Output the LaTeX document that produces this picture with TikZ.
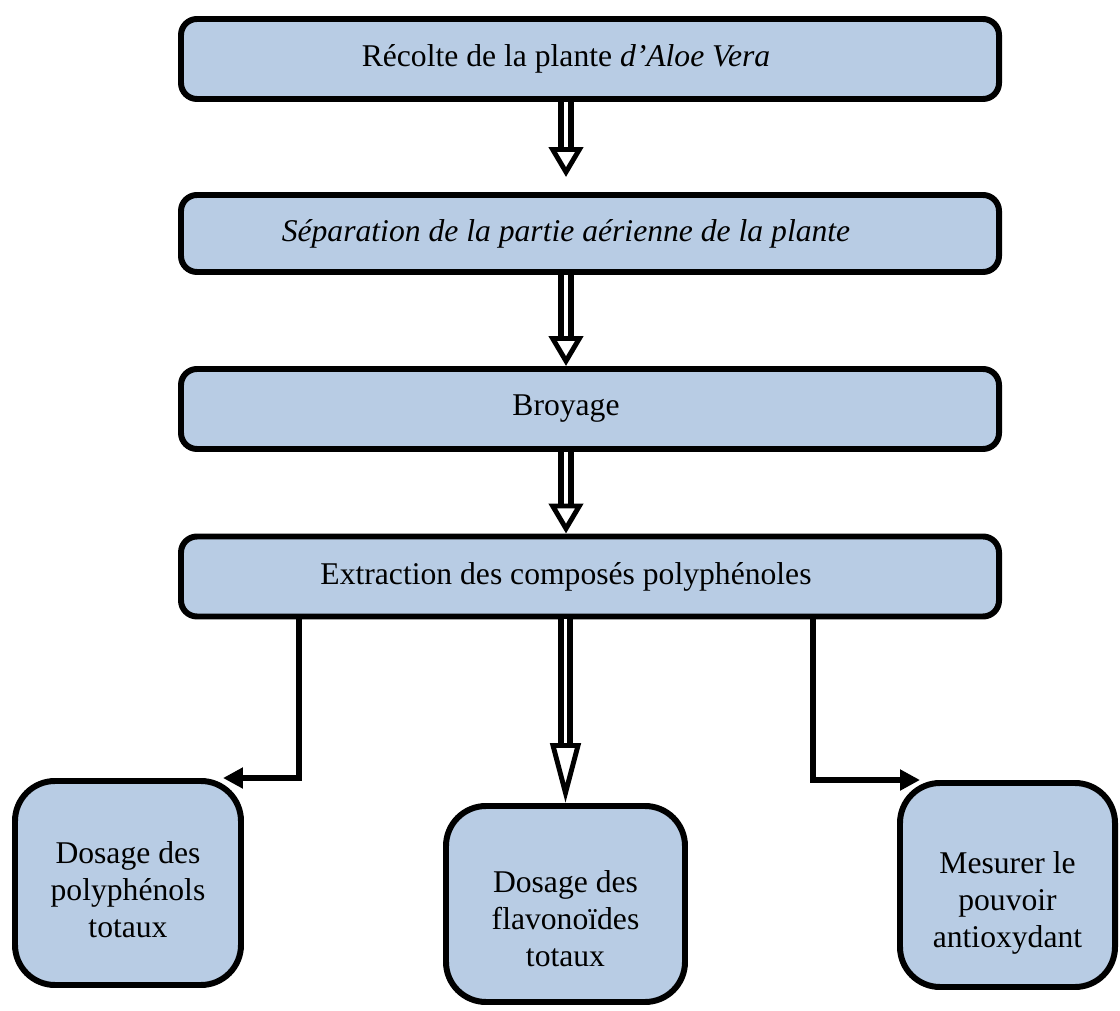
\documentclass[tikz,border=0pt]{standalone}
\usepackage{fontspec}
\setmainfont{Liberation Serif}
\usetikzlibrary{arrows.meta}

\definecolor{boxblue}{HTML}{B8CCE4}
\tikzset{
  stage/.style={draw, line width=4.25pt, fill=boxblue, rounded corners=0.4cm,
    minimum width=20.45cm, minimum height=2cm, font=\fontsize{22.5}{25.5}\selectfont,
    execute at end node=\hspace{1.2cm}},
  result/.style={draw, line width=4.25pt, fill=boxblue, rounded corners=1cm,
    align=center, font=\fontsize{22.5}{26}\selectfont, text depth=0.2cm},
  dbl/.style={double, double distance=2.8pt, line width=4.2pt,
    -{Triangle[open, length=0.75cm, width=0.85cm, line width=3.5pt]}},
  elb/.style={line width=4.25pt, -{Triangle[length=0.5cm, width=0.5cm]}}
}

\begin{document}
\begin{tikzpicture}
\useasboundingbox (0,0) rectangle (28,25.25);
% etapes
\node[stage] (recolte) at (14.75, 23.775) {Récolte de la plante \textit{d’Aloe Vera}};
\node[stage, minimum height=1.925cm] (separation) at (14.75, 19.4125) {\textit{Séparation de la partie aérienne de la plante}};
\node[stage] (broyage) at (14.75, 15.025) {Broyage};
\node[stage] (extraction) at (14.75, 10.8375) {Extraction des composés polyphénoles};
% dosages
\node[result, minimum width=5.65cm, minimum height=5.1cm, text height=2.9cm] (dpoly) at (3.2, 3.175) {Dosage des\\polyphénols\\totaux};
\node[result, minimum width=5.975cm, minimum height=4.9cm, text height=3.3cm] (dflav) at (14.1375, 2.65) {Dosage des\\flavonoïdes\\totaux};
\node[result, minimum width=5.375cm, minimum height=5.1cm, text height=3.3cm] (dmes) at (25.1875, 3.125) {Mesurer le\\pouvoir\\antioxydant};
% fleches
\draw[dbl, shorten >=0.375cm] ([xshift=-0.6cm]recolte.south) -- ([xshift=-0.6cm]separation.north);
\draw[dbl] ([xshift=-0.6cm]separation.south) -- ([xshift=-0.6cm]broyage.north);
\draw[dbl] ([xshift=-0.6cm]broyage.south) -- ([xshift=-0.6cm]extraction.north);
\draw[dbl, -{Triangle[open, length=1.5cm, width=0.75cm, line width=3.5pt]}] (extraction.south -| dflav.north) -- (dflav.north);
\draw[elb] ([xshift=-7.275cm]extraction.south) |- ([xshift=-0.525cm]dpoly.north east);
\draw[elb] ([xshift=5.575cm]extraction.south) |- ([xshift=0.575cm]dmes.north west);
\end{tikzpicture}
\end{document}
